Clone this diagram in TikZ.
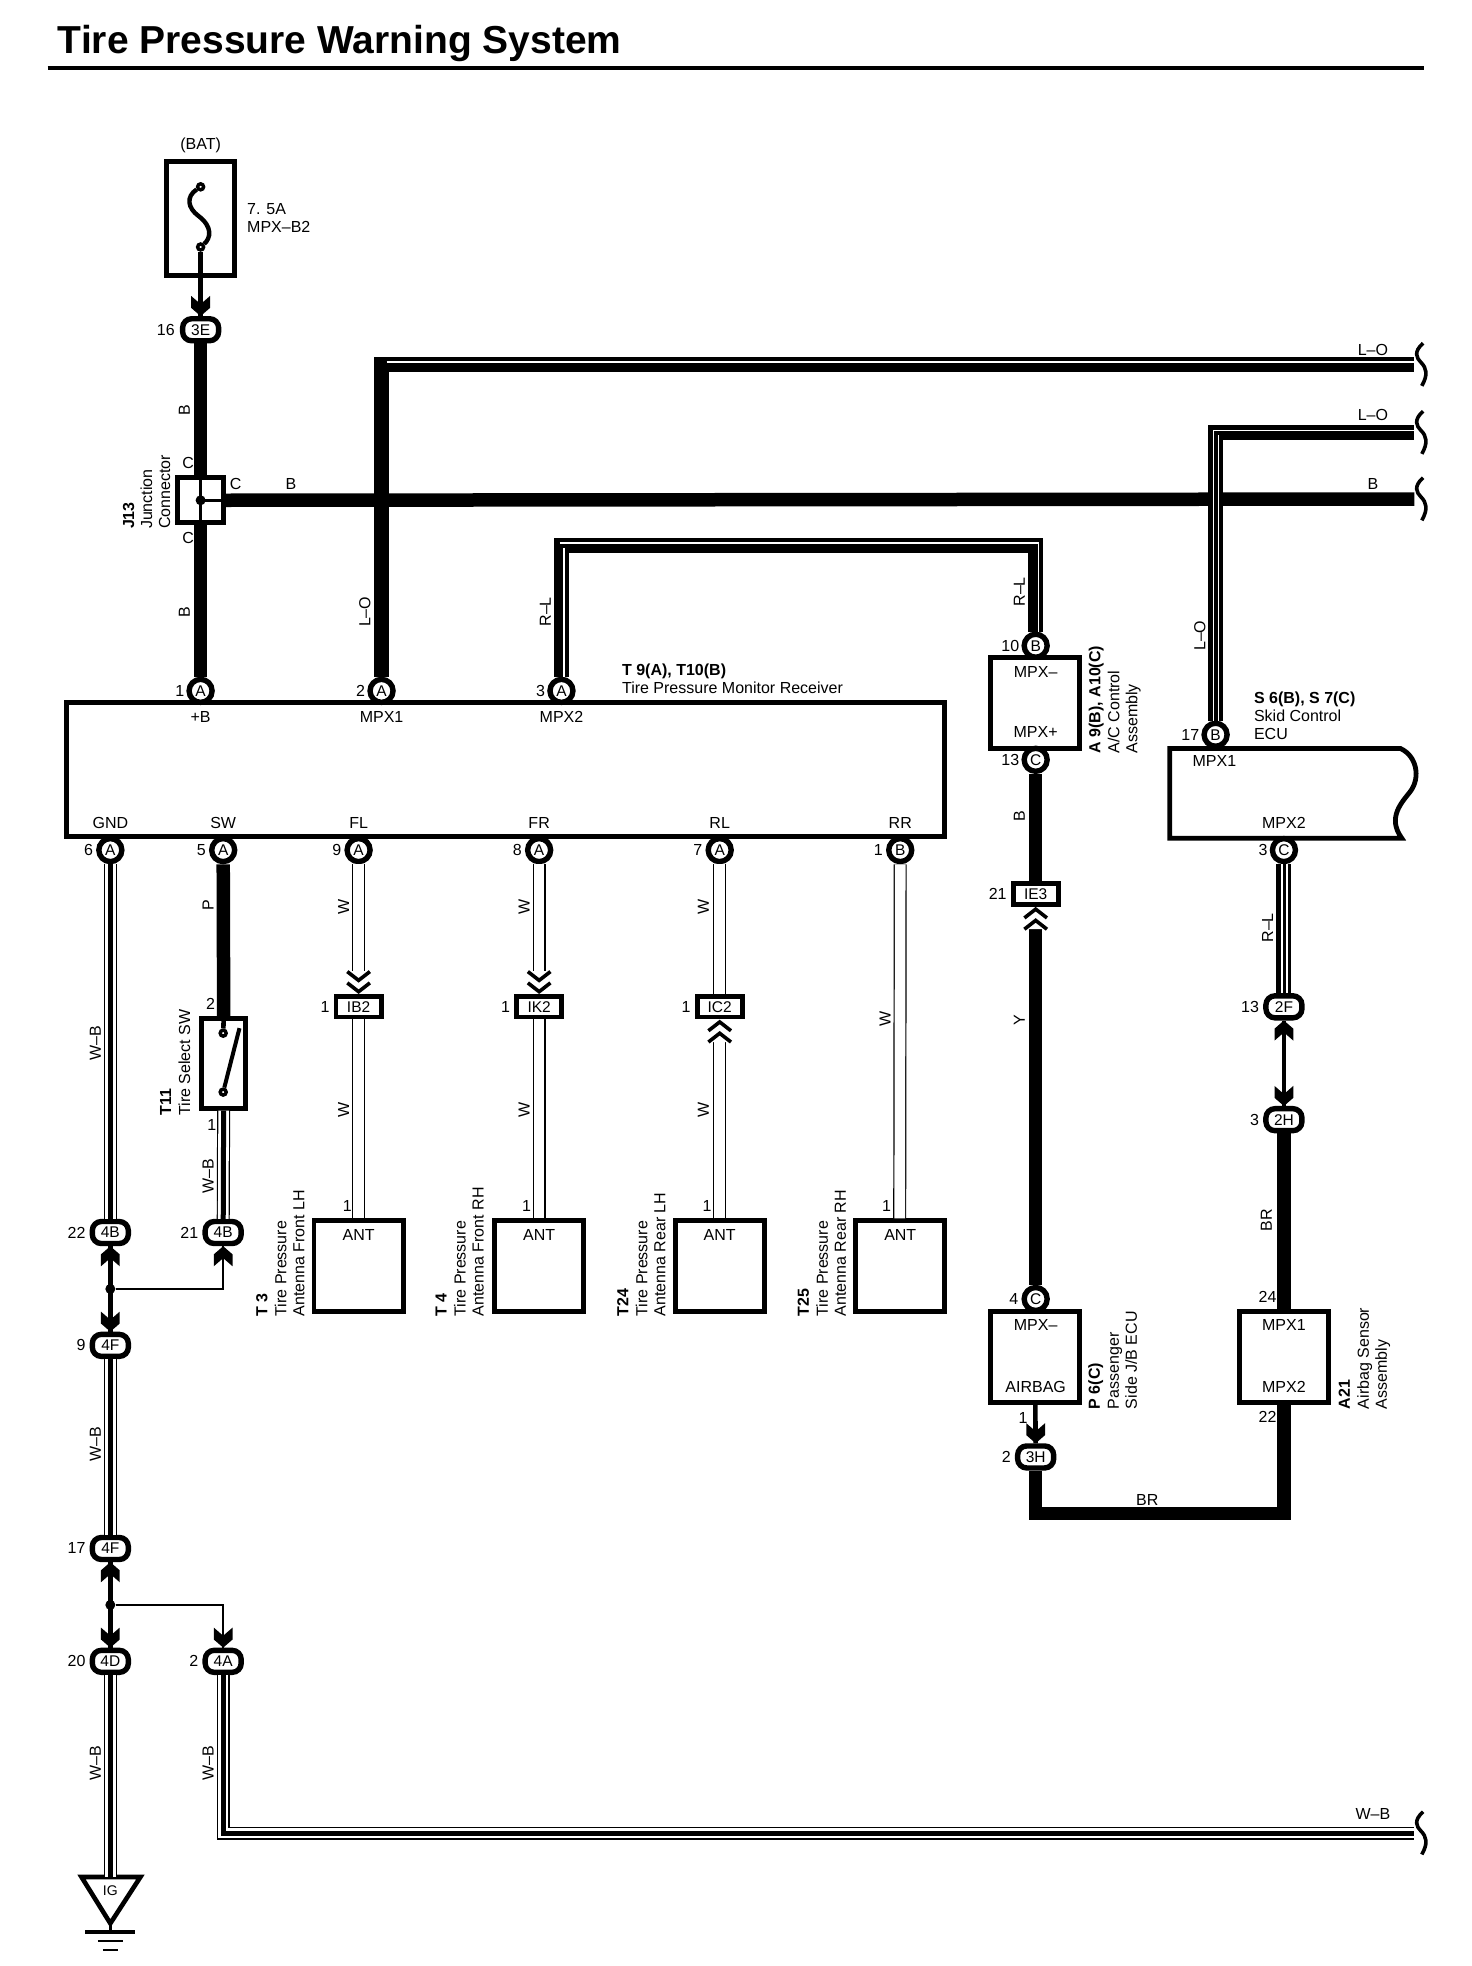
\documentclass[tikz,border=0pt]{standalone}
\usepackage{fontspec}
\setmainfont{Liberation Sans}
\usetikzlibrary{positioning}
\tikzset{
    plug/.pic={\fill (-7.5,-16) -- (0,-9.5) -- (7.5,-16) -- (7.5,-6.5) -- (0,0) -- (-7.5,-6.5) -- cycle;},
    twin/.pic={\draw[line width=3.6pt,fill=white] (-9,-18) -- (0,-11) -- (9,-18);
        \draw[line width=3.6pt] (-9,-9) -- (0,-2) -- (9,-9);},
    cut/.pic={\draw[line width=3.6pt] (2,-17) .. controls (-6,-10) and (-3,-5) .. (0,-2) .. controls (5,3) and (6,8) .. (1,17);}
}
\begin{document}
\begin{tikzpicture}[x=1.2538pt,y=-1.2538pt]
    \tikzstyle{lab}=[inner sep=0pt,font=\fontsize{16}{18}\selectfont]
    \tikzstyle{vlab}=[lab,rotate=90]
    \tikzstyle{stack}=[lab,align=left,anchor=north west]
    \tikzstyle{vstack}=[lab,align=left,rotate=90,anchor=south west]
    \tikzstyle{pinno}=[lab]
    \tikzstyle{box}=[draw,line width=4.8pt,fill=white,inner sep=0pt]
    \tikzstyle{unit}=[box,minimum width=89pt,minimum height=91pt]
    \tikzstyle{pad}=[draw,circle,line width=5.4pt,fill=white,minimum size=23pt,inner sep=0pt,font=\fontsize{15.5}{15.5}\selectfont]
    \tikzstyle{tag}=[draw,rectangle,rounded corners=9pt,line width=5.4pt,fill=white,minimum width=36pt,minimum height=22pt,inner sep=0pt,font=\fontsize{15.5}{15.5}\selectfont]
    \tikzstyle{inline}=[box,minimum width=45pt,minimum height=20.5pt,font=\fontsize{15.5}{15.5}\selectfont]
    \tikzstyle{hole}=[draw,circle,line width=3.4pt,fill=white,minimum size=6pt,inner sep=0pt]
    \tikzstyle{dot}=[fill,circle,minimum size=10pt,inner sep=0pt]
    \tikzstyle{wire}=[draw,line width=13.5pt]
    \tikzstyle{band}=[draw,line width=15pt]
    \tikzstyle{stripe}=[draw=white,line width=1.2pt]
    \tikzstyle{feed}=[draw,line width=4.6pt]
    \tikzstyle{branch}=[draw,line width=2.6pt]
    \tikzstyle{whitewire}=[draw,line width=13pt,postaction={draw=white,line width=10.6pt}]
    \tikzstyle{earthwire}=[draw,line width=13pt,postaction={draw=white,line width=10.6pt},postaction={draw=black,line width=5pt}]

    \useasboundingbox (0,0) rectangle (1174,1568);

    \node[anchor=base west,inner sep=0pt,font=\fontsize{39}{40}\selectfont\bfseries] (title) at (46,43) {Tire Pressure Warning System};
    \draw[line width=4pt] (38,54) -- (1136,54);

    \node[box,minimum width=68.5pt,minimum height=114pt] (fuse) at (160,174) {};
    \node[lab] (bat) at (160,116) {(BAT)};
    \node[stack] (fusetext) at (197,162.5) {7. 5A\\MPX--B2};
    \node[hole] (fusea) at (160,149) {};
    \node[hole] (fuseb) at (160,197) {};
    \draw[line width=4.4pt] (fusea) .. controls (148,157) and (150,166) .. (158,172) .. controls (170,181) and (168,190) .. (fuseb);

    \node[tag] (t3E) at (160,263) {3E};
    \node[pinno,left=5pt of t3E] (n3E) {16};
    \node[vlab] (wb1) at (147,327) {B};
    \node[vlab] (wb2) at (147,488) {B};
    \node[box,minimum width=46pt,minimum height=45pt] (j13) at (160,399) {};
    \node[lab] (jc1) at (150,369) {C};
    \node[lab] (jc2) at (188,386) {C};
    \node[lab] (jc3) at (150,429) {C};
    \node[lab] (wb3) at (232,386) {B};
    \node[vstack] (j13text) at (136,422) {\textbf{J13}\\Junction\\Connector};

    \node[box,minimum width=878pt,minimum height=134pt] (t9) at (403,613.5) {};
    \node[pad] (pplus) at (160,551) {A};
    \node[pad] (pmpxa) at (304.3,551) {A};
    \node[pad] (pmpxb) at (447.8,551) {A};
    \node[pinno,left=2pt of pplus] (n1) {1};
    \node[pinno,left=2pt of pmpxa] (n2) {2};
    \node[pinno,left=2pt of pmpxb] (n3) {3};
    \node[lab] (tplus) at (160,572) {+B};
    \node[lab] (tmpxa) at (304.3,572) {MPX1};
    \node[lab] (tmpxb) at (447.8,572) {MPX2};
    \node[stack] (t9text) at (496,529) {\textbf{T 9(A), T10(B)}\\Tire Pressure Monitor Receiver};
    \node[vlab] (wlo1) at (291,488) {L--O};
    \node[vlab] (wrl1) at (435,488) {R--L};

    \node[lab] (tgnd) at (88,656) {GND};
    \node[lab] (tsw) at (178,656) {SW};
    \node[lab] (tfl) at (286,656) {FL};
    \node[lab] (tfr) at (430,656) {FR};
    \node[lab] (trl) at (574,656) {RL};
    \node[lab] (trr) at (718,656) {RR};
    \node[pad] (pgnd) at (88,678) {A};
    \node[pad] (psw) at (178,678) {A};
    \node[pad] (pfl) at (286,678) {A};
    \node[pad] (pfr) at (430,678) {A};
    \node[pad] (prl) at (574,678) {A};
    \node[pad] (prr) at (718,678) {B};
    \node[pinno,left=3pt of pgnd] (n6) {6};
    \node[pinno,left=3pt of psw] (n5) {5};
    \node[pinno,left=3pt of pfl] (n9) {9};
    \node[pinno,left=3pt of pfr] (n8) {8};
    \node[pinno,left=3pt of prl] (n7) {7};
    \node[pinno,left=3pt of prr] (n1r) {1};

    \node[inline] (ib2) at (286,803) {IB2};
    \node[inline] (ik2) at (430,803) {IK2};
    \node[inline] (ic2) at (574,803) {IC2};
    \node[pinno,left=4pt of ib2] (nib2) {1};
    \node[pinno,left=4pt of ik2] (nik2) {1};
    \node[pinno,left=4pt of ic2] (nic2) {1};
    \node[unit] (anta) at (286,1010) {};
    \node[unit] (antb) at (430,1010) {};
    \node[unit] (antc) at (574,1010) {};
    \node[unit] (antd) at (717.5,1010) {};
    \node[lab] (ta) at (286,985) {ANT};
    \node[lab] (tb) at (430,985) {ANT};
    \node[lab] (tc) at (574,985) {ANT};
    \node[lab] (td) at (718,985) {ANT};
    \node[lab] (na) at (277,962) {1};
    \node[lab] (nb) at (420,962) {1};
    \node[lab] (nc) at (564,962) {1};
    \node[lab] (nd) at (707,962) {1};
    \node[vstack] (t3) at (243,1050) {\textbf{T 3}\\[1pt]Tire Pressure\\Antenna Front LH};
    \node[vstack] (t4) at (386,1050) {\textbf{T 4}\\[1pt]Tire Pressure\\Antenna Front RH};
    \node[vstack] (t24) at (531,1050) {\textbf{T24}\\[1pt]Tire Pressure\\Antenna Rear LH};
    \node[vstack] (t25) at (675,1050) {\textbf{T25}\\[1pt]Tire Pressure\\Antenna Rear RH};
    \node[vlab] (wwa) at (274,723) {W};
    \node[vlab] (wwb) at (418,723) {W};
    \node[vlab] (wwc) at (561,723) {W};
    \node[vlab] (wwd) at (274,885) {W};
    \node[vlab] (wwe) at (418,885) {W};
    \node[vlab] (wwf) at (561,885) {W};
    \node[vlab] (wwg) at (706,813) {W};

    \node[box,minimum width=44pt,minimum height=90pt] (t11) at (178.5,848) {};
    \node[hole] (t11a) at (178,824) {};
    \node[hole] (t11b) at (178,871) {};
    \coordinate (t11c) at (191,820);
    \node[lab] (n2sw) at (168,801) {2};
    \node[lab] (n1sw) at (169,897) {1};
    \node[vstack] (t11text) at (152,890) {\textbf{T11}\\[1pt]Tire Select SW};
    \node[vlab] (wp) at (166,722) {P};
    \node[vlab] (wwb1) at (76,832) {W--B};
    \node[vlab] (wwb2) at (166,938) {W--B};
    \node[vlab] (wwb3) at (76,1152) {W--B};
    \node[vlab] (wwb4) at (76,1406) {W--B};
    \node[vlab] (wwb5) at (166,1406) {W--B};
    \node[lab] (wwb6) at (1095,1447) {W--B};

    \node[tag] (t4Ba) at (88,983) {4B};
    \node[tag] (t4Bb) at (178,983) {4B};
    \node[tag] (t4Fa) at (88,1073) {4F};
    \node[tag] (t4Fb) at (88,1235) {4F};
    \node[tag] (t4D) at (88,1325) {4D};
    \node[tag] (t4A) at (178,1325) {4A};
    \node[pinno,left=4pt of t4Ba] (n22) {22};
    \node[pinno,left=4pt of t4Bb] (n21) {21};
    \node[pinno,left=4pt of t4Fa] (n9f) {9};
    \node[pinno,left=4pt of t4Fb] (n17) {17};
    \node[pinno,left=4pt of t4D] (n20) {20};
    \node[pinno,left=4pt of t4A] (n2a) {2};
    \node[dot] (joina) at (88,1028) {};
    \node[dot] (joinb) at (88,1280) {};
    \coordinate (joinaa) at (178,1028);
    \coordinate (joinbb) at (178,1280);

    \node[lab,font=\fontsize{14}{14}\selectfont] (ig) at (88,1508) {IG};
    \coordinate (gtop) at (88,1497);
    \coordinate (gtip) at (88,1534);
    \coordinate (gbar) at (88,1541);
    \draw[line width=4.6pt] (65,1497) -- (112,1497) -- (gtip) -- cycle;
    \draw[line width=3.4pt] (gtip) -- (gbar);
    \draw[line width=3.4pt] (68,1541) -- (108,1541);
    \draw[line width=2pt] (78,1548) -- (98,1548);
    \draw[line width=2pt] (82,1555) -- (94,1555);

    \node[pad] (p10B) at (826,515) {B};
    \node[unit] (a9) at (825.5,560.5) {};
    \node[pad] (p13C) at (826,606) {C};
    \node[pinno,left=2pt of p10B] (n10) {10};
    \node[pinno,left=2pt of p13C] (n13) {13};
    \node[lab] (ta9a) at (826,536) {MPX--};
    \node[lab] (ta9b) at (826,584) {MPX+};
    \node[vstack] (a9text) at (910,601) {\textbf{A 9(B), A10(C)}\\[1pt]A/C Control\\Assembly};
    \node[vlab] (wrl2) at (813,472) {R--L};
    \node[vlab] (wb4) at (813,651) {B};
    \node[vlab] (wy) at (813,814) {Y};
    \node[inline] (ie3) at (826,713) {IE3};
    \node[pinno,left=4pt of ie3] (nie3) {21};
    \node[pad] (p4C) at (826,1036) {C};
    \node[pinno,left=3pt of p4C] (n4) {4};
    \node[unit] (p6) at (825.5,1082.5) {};
    \node[lab] (tp6a) at (826,1057) {MPX--};
    \node[lab] (tp6b) at (826,1106) {AIRBAG};
    \node[vstack] (p6text) at (907,1124) {\textbf{P 6(C)}\\[1pt]Passenger\\Side J/B ECU};
    \node[tag] (t3H) at (826,1162) {3H};
    \node[lab] (n1p) at (816,1131) {1};
    \node[pinno,left=4pt of t3H] (n2h) {2};
    \node[lab] (wbr1) at (915,1196) {BR};
    \coordinate (brc) at (1024,1207);

    \draw[line width=4.8pt,fill=white] (933,668.5) -- (933,597) -- (1117,597) .. controls (1130,603) and (1133,620) .. (1125,631) .. controls (1118,640) and (1106,652) .. (1118,668.5) -- cycle;
    \node[pad] (s17B) at (969.5,586) {B};
    \node[pad] (s3C) at (1024,678) {C};
    \node[pinno,left=2pt of s17B] (n17b) {17};
    \node[pinno,left=2pt of s3C] (n3c) {3};
    \node[lab,anchor=west] (ts6a) at (951,607) {MPX1};
    \node[lab] (ts6b) at (1024,656) {MPX2};
    \node[stack] (s6text) at (1000,552) {\textbf{S 6(B), S 7(C)}\\Skid Control\\ECU};
    \node[vlab] (wlo2) at (957,507) {L--O};
    \node[vlab] (wrl3) at (1011,740) {R--L};
    \node[tag] (t2F) at (1024,803) {2F};
    \node[tag] (t2H) at (1024,893) {2H};
    \node[pinno,left=4pt of t2F] (n13f) {13};
    \node[pinno,left=4pt of t2H] (n3h) {3};
    \node[vlab] (wbr2) at (1010,973) {BR};
    \node[unit] (a21) at (1024,1082.5) {};
    \node[lab] (n24) at (1011,1034) {24};
    \node[lab] (n22b) at (1011,1130) {22};
    \node[lab] (ta21a) at (1024,1057) {MPX1};
    \node[lab] (ta21b) at (1024,1106) {MPX2};
    \node[vstack] (a21text) at (1109,1124) {\textbf{A21}\\[1pt]Airbag Sensor\\Assembly};

    \coordinate (endb) at (1128,398);
    \coordinate (endloa) at (1128,290.7);
    \coordinate (endlob) at (1128,345);
    \coordinate (endwb) at (1128,1462);
    \coordinate (cornera) at (304.3,290.7);
    \coordinate (cornerb) at (969.5,345);
    \coordinate (cornerc) at (447.8,435);
    \coordinate (cornerd) at (826,435);
    \coordinate (cornere) at (178,1462);
    \node[lab] (wloa) at (1095,279) {L--O};
    \node[lab] (wlob) at (1095,331) {L--O};
    \node[lab] (wbend) at (1095,386) {B};
    \pic at (1133,290.7) {cut};
    \pic at (1133,345) {cut};
    \pic at (1133,398) {cut};
    \pic at (1133,1462) {cut};

    \draw[feed] (fuseb) -- (t3E);
    \pic at (t3E.north) {plug};
    \draw[wire] (t3E) -- (j13);
    \draw[wire] (j13) -- (pplus);
    \draw[wire] (j13) -- (endb);
    \draw[line width=3pt] (j13.north) -- (j13.south);
    \draw[line width=3pt] (j13.center) -- (j13.east);
    \node[dot] (jdot) at (j13.center) {};

    \draw[band] (pmpxa) |- (endloa);
    \draw[stripe] ([xshift=5pt,yshift=2.5pt]cornera) -- ([yshift=2.5pt]endloa);

    \draw[band] (s17B) |- (endlob);
    \draw[stripe] ([xshift=-2pt]s17B.north) -- ([xshift=-2pt,yshift=2pt]cornerb) -- ([yshift=2pt]endlob);
    \draw[stripe] ([xshift=3pt]s17B.north) -- ([xshift=3pt,yshift=-2.5pt]cornerb);

    \draw[band] (pmpxb) -- (cornerc) -- (cornerd) -- (p10B);
    \draw[stripe] ([xshift=-1.5pt,yshift=2.5pt]cornerc) -- ([xshift=2.5pt,yshift=2.5pt]cornerd) -- ([xshift=2.5pt]p10B.north);
    \draw[stripe] ([xshift=2.5pt]pmpxb.north) -- ([xshift=2.5pt,yshift=-2.5pt]cornerc);

    \draw[earthwire] (pgnd) -- (t4Ba);
    \draw[wire] (psw) -- (t11);
    \draw[feed] (t11.north) -- (t11a);
    \draw[line width=4pt] (t11b) -- (t11c);
    \draw[earthwire] (t11) -- (t4Bb);
    \draw[feed] (t4Ba) -- (t4Fa);
    \draw[branch] (joina) -- (joinaa) -- (t4Bb);
    \pic[yscale=-1] at (t4Ba.south) {plug};
    \pic[yscale=-1] at (t4Bb.south) {plug};
    \pic at (t4Fa.north) {plug};
    \draw[earthwire] (t4Fa) -- (t4Fb);
    \draw[feed] (t4Fb) -- (t4D);
    \draw[branch] (joinb) -- (joinbb) -- (t4A);
    \pic[yscale=-1] at (t4Fb.south) {plug};
    \pic at (t4D.north) {plug};
    \pic at (t4A.north) {plug};
    \draw[earthwire] (t4D) -- (gtop);
    \draw[earthwire] (t4A) -- (cornere) -- (endwb);

    \draw[whitewire] (pfl) -- ([yshift=23pt]ib2.north);
    \draw[whitewire] (pfr) -- ([yshift=23pt]ik2.north);
    \draw[whitewire] (prl) -- (ic2);
    \pic at (ib2.north) {twin};
    \pic at (ik2.north) {twin};
    \draw[whitewire] (ib2) -- (anta);
    \draw[whitewire] (ik2) -- (antb);
    \draw[whitewire] (antc) -- ([yshift=-23pt]ic2.south);
    \pic[yscale=-1] at (ic2.south) {twin};
    \draw[whitewire] (prr) -- (antd);

    \draw[wire] (p13C) -- (ie3);
    \draw[wire] (p4C) -- ([yshift=-22pt]ie3.south);
    \pic[yscale=-1] at (ie3.south) {twin};
    \draw[feed] (p6) -- (t3H);
    \pic at (t3H.north) {plug};
    \draw[wire] (t3H) |- (brc) -- (a21);

    \draw[band] (s3C) -- (t2F);
    \draw[stripe] ([xshift=-2pt]s3C.south) -- ([xshift=-2pt]t2F.north);
    \draw[stripe] ([xshift=3pt]s3C.south) -- ([xshift=3pt]t2F.north);
    \draw[feed] (t2F) -- (t2H);
    \pic[yscale=-1] at (t2F.south) {plug};
    \pic at (t2H.north) {plug};
    \draw[wire] (t2H) -- (a21);
\end{tikzpicture}
\end{document}
